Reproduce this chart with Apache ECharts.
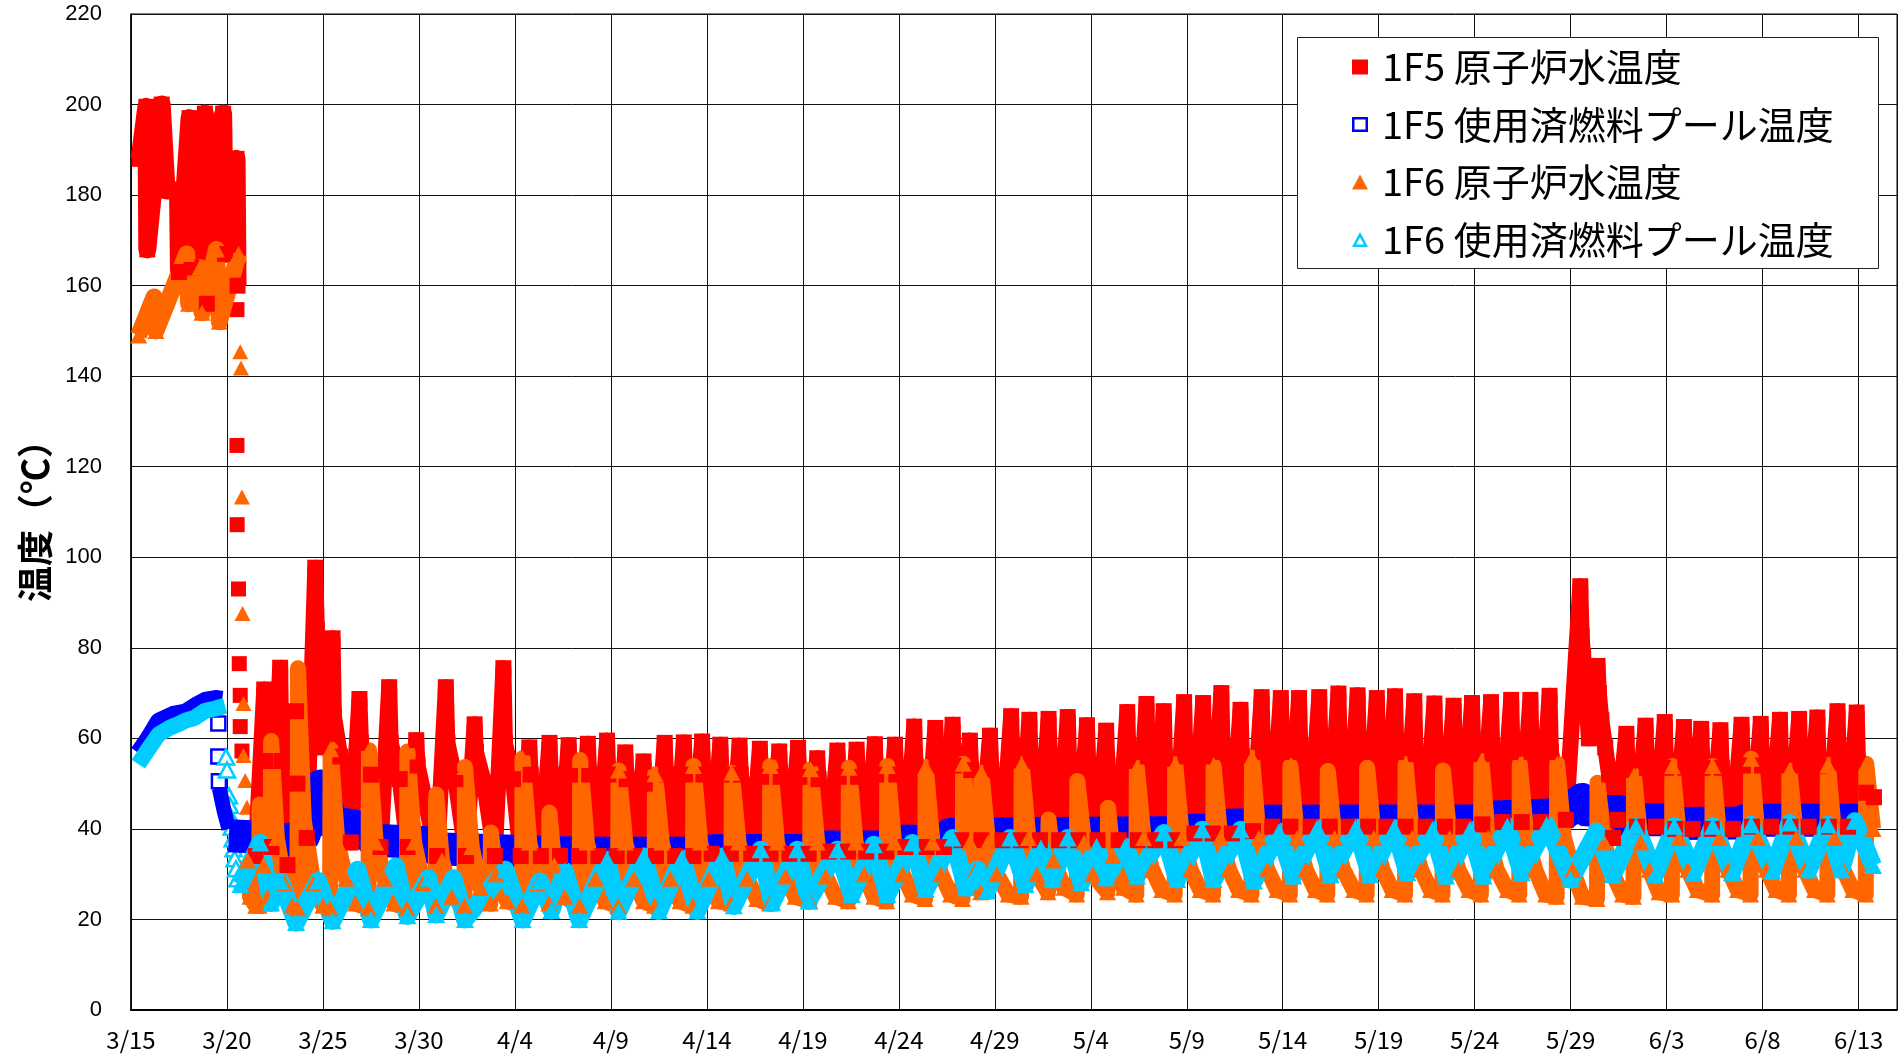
<!DOCTYPE html>
<html>
<head>
<meta charset="utf-8">
<script src="https://cdn.jsdelivr.net/npm/echarts@6/dist/echarts.min.js"></script>
<style>
html,body{margin:0;padding:0;background:#fff;}
#chart{width:1903px;height:1060px;}
</style>
</head>
<body>
<div id="chart"></div>
<script>
// x = days since 3/15 00:00
const xTickLabels = ['3/15','3/20','3/25','3/30','4/4','4/9','4/14','4/19','4/24','4/29','5/4','5/9','5/14','5/19','5/24','5/29','6/3','6/8','6/13'];
const seriesNames = ['1F5 原子炉水温度','1F5 使用済燃料プール温度','1F6 原子炉水温度','1F6 使用済燃料プール温度'];

// 1F5 reactor water temperature
const r5Early = [[0.45,188],[0.8,199.5],[0.85,168],[1.6,200],[1.85,181],[2.45,181],[2.5,163],[3.05,197],[3.15,164],[3.85,198],[3.95,156],[4.8,198],[4.9,167],[5.5,188],[5.55,160]];
const r5Drop = [[5.52,154.7],[5.52,124.7],[5.53,107.2],[5.6,93],[5.64,76.5],[5.69,69.5],[5.69,62.6],[5.78,57.2]];
const r5Main = [[6.49,34],[6.94,70.8],[7.0,55],
[7.32,36],[7.77,75.6],[7.84,55],
[8.15,32],[8.6,66],[8.67,50],
[9.15,38],[9.6,97.7],[9.68,84],[9.75,72],[9.95,62],
[10.05,58],[10.5,82.1],[10.57,65],[10.9,56],
[11.45,37],[11.9,68.7],[11.98,59],[12.5,52],
[13.0,36],[13.45,71.3],[13.53,59],[14.0,51],
[14.41,36],[14.86,59.6],[14.93,54],
[15.95,34],[16.4,71.3],[16.48,59],[16.9,51],
[17.45,34],[17.9,63.1],[17.97,57],[18.4,50],
[18.95,34],[19.4,75.5],[19.48,59],[19.9,51],
[20.3,34],[20.75,58],[20.82,52],
[21.35,34],[21.8,59],[21.87,52],
[22.35,34],[22.8,58.5],[22.87,52],
[23.35,34],[23.8,58.8],[23.87,52],
[24.35,34],[24.8,59.5],[24.87,52],
[25.3,34],[25.75,56.9],[25.82,51],
[26.25,34],[26.7,54.9],[26.77,50],
[27.35,34],[27.8,59],[27.87,52],
[28.35,34],[28.8,59.1],[28.87,52],
[29.3,34],[29.75,59.3],[29.82,52],
[30.25,34.5],[30.7,58.6],[30.77,52],
[31.25,34.5],[31.7,58.4],[31.77,52],
[32.31,34.5],[32.76,57.7],[32.83,51.5],
[33.32,34.5],[33.77,57.1],[33.84,51.5],
[34.3,34.5],[34.75,57.9],[34.82,51.5],
[35.3,34.5],[35.75,55.6],[35.82,51],
[36.35,35],[36.8,57.3],[36.87,51.5],
[37.35,35],[37.8,57.5],[37.87,51.5],
[38.3,35],[38.75,58.7],[38.82,52],
[39.35,35],[39.8,58.6],[39.87,52],
[40.35,36],[40.8,62.6],[40.87,54],
[41.45,36],[41.9,62.3],[41.97,54],
[42.35,36],[42.8,63.0],[42.87,54],
[43.25,37.5],[43.7,59.5],[43.77,53],
[44.3,37.5],[44.75,60.6],[44.82,53],
[45.4,37.5],[45.85,64.9],[45.92,55],
[46.35,37.5],[46.8,64.1],[46.87,55],
[47.35,37.5],[47.8,64.3],[47.87,55],
[48.35,37.5],[48.8,64.7],[48.87,55],
[49.35,37.5],[49.8,62.9],[49.87,54],
[50.35,37.5],[50.8,61.7],[50.87,54],
[51.45,37.5],[51.9,65.8],[51.97,55],
[52.45,37.5],[52.9,67.6],[52.97,56],
[53.35,37.5],[53.8,66.0],[53.87,55.5],
[54.41,37.5],[54.86,68.0],[54.93,56],
[55.4,39],[55.85,67.8],[55.92,56],
[56.35,39],[56.8,70.0],[56.87,57],
[57.35,39],[57.8,66.3],[57.87,56],
[58.45,39.5],[58.9,69.1],[58.97,57],
[59.45,40.5],[59.9,68.9],[59.97,57],
[60.4,40.5],[60.85,68.9],[60.92,57],
[61.45,40.5],[61.9,69.1],[61.97,57],
[62.45,40.5],[62.9,69.9],[62.97,57],
[63.45,40.5],[63.9,69.5],[63.97,57],
[64.45,40.5],[64.9,68.9],[64.97,57],
[65.4,40.5],[65.85,69.3],[65.92,57],
[66.4,40.5],[66.85,68.2],[66.92,56.5],
[67.45,40.5],[67.9,67.7],[67.97,56.5],
[68.45,40.5],[68.9,67.2],[68.97,56.5],
[69.41,40.5],[69.86,67.8],[69.93,56.5],
[70.4,41],[70.85,68.0],[70.92,56.5],
[71.45,41.5],[71.9,68.5],[71.97,57],
[72.45,41.5],[72.9,68.5],[72.97,57],
[73.45,41.5],[73.9,69.4],[73.97,57],
[74.75,42],[75.5,93.6],[75.57,82.6],[75.65,78],[75.8,70],
[75.95,60],[76.4,76.0],[76.47,70],[76.6,64],[76.8,58],[77.0,52],[77.2,38],
[77.45,42],[77.9,61.0],[77.97,53],
[78.45,40.5],[78.9,62.8],[78.97,53.5],
[79.45,40.5],[79.9,63.6],[79.97,53.5],
[80.45,40],[80.9,62.5],[80.97,53.5],
[81.35,40],[81.8,62.1],[81.87,53.5],
[82.35,40],[82.8,61.8],[82.87,53.5],
[83.45,40],[83.9,63.0],[83.97,54],
[84.45,40.5],[84.9,63.2],[84.97,54],
[85.45,40.5],[85.9,64.1],[85.97,54],
[86.45,40.5],[86.9,64.3],[86.97,54],
[87.4,40.5],[87.85,64.6],[87.92,54],
[88.45,40.5],[88.9,66.0],[88.97,54.5],
[89.45,40.5],[89.9,65.7],[89.97,54.5],
[90.4,48],[90.8,47]];

// 1F5 spent fuel pool temperature
const p5Early = [[0.38,56.8],[0.9,60],[1.44,63.8],[2.2,65.3],[2.83,65.8],[3.4,67.3],[3.87,68.4],[4.4,68.8],[4.75,68.6]];
const p5Hollow = [[4.55,63.3],[4.55,56],[4.58,50.5]];
const p5Descent = [[4.6,49],[4.85,44],[5.1,40]];
const p5Band = [[5.1,38.5],[6.5,38.2],[8.0,37.5],[9.0,38.5],[9.9,49.5],[10.4,41.5],[12.2,40.2],[12.6,37.5],[15.3,37],[15.8,35.6],[19,35.2],[23.5,34.6],[30,34.6],[30.3,35.2],[35.3,35.3],[35.6,36],[39.7,36],[40,37.3],[42.4,37.3],[42.7,38.8],[55,39.2],[55.2,39.7],[57,39.7],[57.2,40.8],[58.6,41],[58.8,41.7],[70.0,41.8],[70.7,42.6],[74.6,43.2],[75.6,46.5],[75.8,44.2],[77.6,43.8],[78,42],[80.2,42],[80.5,41.2],[83.8,41.3],[84.1,41.9],[90.8,41.9]];

// 1F6 reactor water temperature
const r6Early = [[0.4,149],[1.2,157.5],[1.3,150],[2.9,167],[3.0,156],[3.6,164],[3.7,154],[4.45,168],[4.6,152],[5.6,167]];
const r6Drop = [[5.69,145.4],[5.73,141.8],[5.78,113.3],[5.81,87.6],[5.86,67.7],[5.86,56.2],[5.95,50.7],[6.04,44.8],[6.04,39]];
const r6Main = [[6.08,33],[6.2,25],[6.5,23],[6.67,23],[6.7,45.4],[6.9,32],[7.1,25],[7.27,23.5],[7.3,59.4],[7.6,38],[8.0,28],[8.4,23],[8.67,22.5],[8.7,75.5],[9.0,42],[9.5,28],[10.0,23],[10.37,22.5],[10.4,57.6],[10.75,37],[11.2,29],[11.7,23.5],[12.37,22.5],[12.4,57.4],[12.75,37],[13.2,29],[13.7,23.5],[14.37,22.5],[14.4,57.1],[14.75,37],[15.2,28],[15.87,23],[15.9,47.6],[16.2,33],[16.7,25],[17.37,23],[17.4,53.7],[17.75,36],[18.2,27],[18.72,23.5],[18.75,39.2],[19.0,30],[19.6,24],[20.37,23],[20.4,55.6],[20.75,37],[21.2,28],[21.77,23.5],[21.8,43.6],[22.05,32],[22.6,25],[23.37,23],[23.4,55.2],[23.75,37],[24.2,29],[24.7,24],[25.37,23],
[25.4,52.9],[25.75,37],[26.2,29],[26.7,24],[27.27,23],
[27.3,52.1],[27.65,37],[28.1,29],[28.6,24],[29.27,23],
[29.3,53.9],[29.65,37],[30.1,29],[30.6,24],[31.27,23.5],
[31.3,52.4],[31.65,37],[32.1,29],[32.6,24.5],[33.27,23.5],
[33.3,53.9],[33.65,37],[34.1,29.5],[34.6,25],[35.37,24],
[35.4,53.2],[35.75,37],[36.2,29.5],[36.7,25],[37.37,24],
[37.4,53.5],[37.75,37],[38.2,30],[38.7,25],[39.37,24],
[39.4,53.9],[39.75,37],[40.2,30],[40.7,25.5],[41.37,24.5],
[41.4,53.7],[41.75,37],[42.2,30],[42.7,25.5],[43.32,24.5],
[43.35,54.4],[43.7,37],[44.0,31],[44.27,26],
[44.3,52.4],[44.65,37],[45.1,30],[45.7,25.5],[46.37,25],
[46.4,54.3],[46.75,38],[47.2,30],[47.77,26],
[47.8,42.1],[48.05,33],[48.6,27],[49.27,25.5],
[49.3,50.6],[49.65,37],[50.1,30],[50.87,26],
[50.9,44.7],[51.15,34],[51.7,27],[52.37,25.5],
[52.4,53.5],[52.75,38],[53.2,31],[53.7,26.5],[54.37,25.5],
[54.4,54.3],[54.75,38],[55.2,31],[55.7,26.5],[56.37,25.5],
[56.4,53.9],[56.75,38],[57.2,31],[57.7,26.5],[58.37,25.5],
[58.4,55.7],[58.75,38],[59.2,31],[59.7,26.5],[60.37,25.5],
[60.4,53.9],[60.75,38],[61.2,31],[61.7,26.5],[62.32,25.5],
[62.35,52.8],[62.7,38],[63.15,31],[63.7,26.5],[64.37,25.5],
[64.4,53.5],[64.75,38],[65.2,31],[65.7,26.5],[66.37,25.5],
[66.4,54.3],[66.75,38],[67.2,31],[67.7,26.5],[68.32,25.5],
[68.35,52.9],[68.7,38],[69.15,31],[69.7,26.5],[70.32,25.5],
[70.35,55.0],[70.7,38],[71.15,31],[71.7,26.5],[72.32,25.5],
[72.35,54.3],[72.7,38],[73.15,31],[73.7,25.5],[74.27,25],
[74.3,54.4],[74.65,38],[75.1,31],[75.6,25],[76.37,24.5],
[76.4,50.2],[76.75,37],[77.2,30],[77.7,25.5],[78.27,25],
[78.3,51.8],[78.65,37],[79.1,31],[79.6,26],[80.27,25.5],
[80.3,53.9],[80.65,38],[81.1,31],[81.6,26.5],[82.37,25.5],
[82.4,53.9],[82.75,38],[83.2,31],[83.7,26.5],[84.37,25.5],
[84.4,55.5],[84.75,38],[85.2,31],[85.7,26.5],[86.37,25.5],
[86.4,52.9],[86.75,38],[87.2,31],[87.7,26.5],[88.37,25.5],
[88.4,54.1],[88.75,38],[89.2,31],[89.7,26.5],[90.37,25.5],
[90.4,54.4],[90.75,40]];

// 1F6 spent fuel pool temperature
const p6Early = [[0.38,54.3],[0.9,57.6],[1.44,60.9],[2.0,62.3],[2.5,63.2],[2.83,63.9],[3.3,64.5],[3.87,66.1],[4.4,66.6],[4.9,67.2]];
const p6Hollow = [[4.95,55.9],[5.0,53],[5.1,47.3],[5.15,45.2],[5.2,42.6],[5.25,40.4],[5.3,37.8],[5.35,35.6],[5.4,33.4],[5.47,31.2],[5.55,29]];
const p6Main = [[5.7,27.7],[6.73,36.9],[7.3,23.7],[7.8,28.4],[8.6,19.3],[9.75,28.5],[10.5,19.7],[11.8,31],[12.5,20],[13.8,31.7],[14.4,20.8],[15.5,29.1],[15.9,21.1],[16.8,29.1],[17.4,20],[19.5,31],[20.4,20],[21.3,28.4],[21.9,22],[22.6,30.7],[23.35,20],[24.8,33.2],[25.4,21.8],[26.7,33.9],[27.5,21.9],[28.7,33.5],[29.5,21.9],[30.8,33.9],[31.4,23],[32.8,35.4],[33.4,23.7],[34.7,35.4],[35.3,24.1],[36.8,35.4],[37.55,25.5],[38.7,36.5],[39.4,25.5],[40.7,36.9],[41.4,26.6],[42.8,38],[43.5,27],[44.1,31],[44.6,26.3],[45.8,38],[46.6,27.7],[47.4,35.8],[48.0,28.8],[48.8,38],[49.5,28.1],[50.3,36.1],[50.8,29.2],[51.8,36.1],[52.4,29.6],[53.8,39.1],[54.5,28.8],[55.8,39.8],[56.4,28.8],[57.8,39.8],[58.5,28.5],[59.8,39.4],[60.55,29.6],[61.8,40.2],[62.5,29.9],[63.8,40.3],[64.55,29.9],[65.8,40.2],[66.5,30.3],[67.8,39.8],[68.5,29.6],[69.75,39.8],[70.45,29.6],[71.7,40.6],[72.45,30.3],[73.75,40.9],[75.0,28.8],[76.35,39.4],[77.2,29.9],[78.4,40.6],[79.4,29.9],[80.4,40.6],[81.4,30.3],[82.4,40.6],[83.4,30.3],[84.4,40.9],[85.5,30.7],[86.4,41.3],[87.4,31.0],[88.4,40.9],[89.1,31],[89.8,41.7],[90.75,31.9]];

const C_RED = '#ff0000', C_BLUE = '#0000ff', C_ORANGE = '#ff6600', C_CYAN = '#00ccff';
const ICON_EMPTY_RECT = 'path://M0,0L16,0L16,15L0,15Z M2.5,2.5L2.5,12.5L13.5,12.5L13.5,2.5Z';
const ICON_EMPTY_TRI = 'path://M8,0L16,15L0,15Z M8,5.3L4.16,12.5L11.84,12.5Z';

function lineS(name, data, color, width, symbol, size) {
  return {
    type: 'line', name: name, data: data,
    symbol: symbol || 'none', symbolSize: size || 0,
    showSymbol: !!symbol, showAllSymbol: true,
    lineStyle: { color: color, width: width, join: 'round', cap: 'butt' },
    itemStyle: { color: color, opacity: 1 },
    silent: true, animation: false, emphasis: { disabled: true }
  };
}
function scatS(name, data, color, symbol, size, hollow) {
  return {
    type: 'scatter', name: name, data: data,
    symbol: symbol, symbolSize: size,
    itemStyle: hollow ? { color: '#ffffff', borderColor: color, borderWidth: 2.5, opacity: 1 } : { color: color, opacity: 1 },
    silent: true, animation: false, emphasis: { disabled: true }
  };
}

const chart = echarts.init(document.getElementById('chart'), null, { renderer: 'canvas' });
chart.setOption({
  backgroundColor: '#ffffff',
  animation: false,
  grid: { left: 131, right: 6, top: 14, bottom: 50, show: true, borderColor: '#000', borderWidth: 1 },
  xAxis: {
    type: 'value', min: 0, max: 92, interval: 5,
    axisLine: { show: true, lineStyle: { color: '#000', width: 2 } },
    axisTick: { show: false },
    splitLine: { show: true, lineStyle: { color: '#111', width: 1 } },
    axisLabel: {
      margin: 18, color: '#000', fontSize: 24, fontFamily: 'Noto Sans CJK JP',
      formatter: function (v) { const i = Math.round(v / 5); return (Math.abs(v - i * 5) < 1e-6 && i < xTickLabels.length) ? xTickLabels[i] : ''; }
    }
  },
  yAxis: {
    type: 'value', min: 0, max: 220, interval: 20,
    name: '温度（℃）', nameLocation: 'middle', nameGap: 78, nameRotate: 90,
    nameTextStyle: { fontSize: 36, fontWeight: 'bold', color: '#000', fontFamily: 'Noto Sans CJK JP' },
    axisLine: { show: true, lineStyle: { color: '#000', width: 1.5 } },
    axisTick: { show: false },
    splitLine: { show: true, lineStyle: { color: '#111', width: 1 } },
    axisLabel: { margin: 29, color: '#000', fontSize: 22, fontFamily: 'Liberation Sans' }
  },
  graphic: [{
    type: 'rect', z: 3, silent: true,
    shape: { x: 1297.5, y: 37.5, width: 581, height: 231 },
    style: { fill: '#ffffff', stroke: '#222', lineWidth: 1 }
  }],
  legend: {
    orient: 'vertical', left: 1352, top: 47, padding: 0, itemGap: 17.5,
    itemWidth: 16, itemHeight: 15, z: 5,
    selectedMode: false,
    textStyle: { fontSize: 38, lineHeight: 40, color: '#000', fontFamily: 'Noto Sans CJK JP', padding: [0, 0, 0, 9] },
    data: [
      { name: seriesNames[0], icon: 'rect' },
      { name: seriesNames[1], icon: ICON_EMPTY_RECT },
      { name: seriesNames[2], icon: 'triangle' },
      { name: seriesNames[3], icon: ICON_EMPTY_TRI }
    ]
  },
  series: [
    lineS(seriesNames[0], r5Early, C_RED, 18, 'rect', 16),
    scatS(seriesNames[0], r5Drop, C_RED, 'rect', 15, false),
    lineS(seriesNames[0], r5Main, C_RED, 16, 'rect', 16),
    lineS(seriesNames[1], p5Early, C_BLUE, 17, null, 0),
    scatS(seriesNames[1], p5Hollow, C_BLUE, 'rect', 14, true),
    lineS(seriesNames[1], p5Descent, C_BLUE, 15, null, 0),
    lineS(seriesNames[1], p5Band, C_BLUE, 33, null, 0),
    lineS(seriesNames[2], r6Early, C_ORANGE, 17, 'triangle', [17, 16]),
    scatS(seriesNames[2], r6Drop, C_ORANGE, 'triangle', [16, 15], false),
    lineS(seriesNames[2], r6Main, C_ORANGE, 16, 'triangle', [17, 16]),
    lineS(seriesNames[3], p6Early, C_CYAN, 16, null, 0),
    scatS(seriesNames[3], p6Hollow, C_CYAN, 'triangle', [16, 15], true),
    lineS(seriesNames[3], p6Main, C_CYAN, 18, 'triangle', [18, 17])
  ]
});
</script>
</body>
</html>
